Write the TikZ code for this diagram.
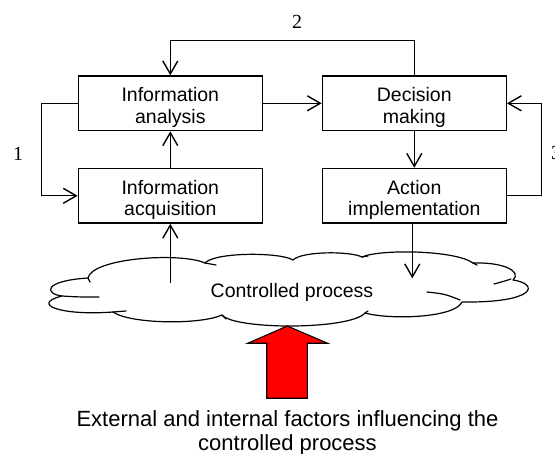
\documentclass[tikz,border=0pt]{standalone}
\usepackage{fontspec}
\setmainfont{Liberation Sans}
\newfontfamily\numfont{Liberation Serif}
\usetikzlibrary{arrows.meta}
\tikzset{
  blockbox/.style={draw, line width=1.3pt, minimum width=184pt, minimum height=54.7pt, inner sep=0pt},
  blocktext/.style={align=center, inner sep=0pt, font=\fontsize{19.5}{21.6}\selectfont},
  conn/.style={line width=1.4pt},
  arr/.style={conn, -{Straight Barb[length=13pt,width=15pt,line width=1.4pt]}},
  numlbl/.style={inner sep=0pt, font=\numfont\fontsize{20}{22}\selectfont},
  cloudline/.style={line width=1.2pt, line join=round, line cap=round},
}
\begin{document}
\begin{tikzpicture}[x=1pt,y=-1pt]
\useasboundingbox (0,0) rectangle (555,454);
% cloud
\path[cloudline, draw=black, fill=white]
  (62,296) .. controls (45,294) and (42,281) .. (88,278)
  .. controls (92,258) and (180,252) .. (205,263)
  .. controls (215,252) and (280,252) .. (293,260)
  .. controls (302,251) and (350,251) .. (362,257)
  .. controls (380,249) and (455,250) .. (473,263)
  .. controls (505,262) and (522,272) .. (513,280)
  .. controls (540,284) and (536,303) .. (462,302)
  .. controls (455,318) and (390,320) .. (365,313)
  .. controls (350,330) and (235,330) .. (222,315)
  .. controls (200,325) and (130,324) .. (113,312)
  .. controls (60,316) and (30,304) .. (62,296) -- cycle;
% cloud inner strokes
\draw[cloudline] (62,296) .. controls (78,297) .. (99,297);
\draw[cloudline] (88,278) -- (90,282);
\draw[cloudline] (205,263) -- (216,265);
\draw[cloudline] (362,257) -- (368,256);
\draw[cloudline] (473,263) -- (477,265);
\draw[cloudline] (511,279) .. controls (505,281) .. (494,284);
\draw[cloudline] (427,292) .. controls (445,294) .. (460,300);
\draw[cloudline] (365,313) -- (368,311);
\draw[cloudline] (222,315) -- (226,319);
\draw[cloudline] (113,312) -- (126,311);
\node[inner sep=0pt, font=\fontsize{19.5}{21.6}\selectfont] (cp) at (292,292.5) {Controlled process};

% boxes
\node[blockbox] (ia) at (170.3,103.3) {};
\node[blockbox] (dm) at (414.3,103.3) {};
\node[blockbox] (iq) at (170.3,195.8) {};
\node[blockbox] (ai) at (414.3,195.8) {};
\node[blocktext] (iat) at (170.3,107.5) {Information\\analysis};
\node[blocktext] (dmt) at (414.3,107.5) {Decision\\making};
\node[blocktext] (iqt) at (170.3,200) {Information\\acquisition};
\node[blocktext] (ait) at (414.3,200) {Action\\implementation};

% connectors
\draw[arr] (dm.north) -- ++(0,-35) -| (ia.north);
\draw[arr] (ia.west) -- ++(-36,0) |- (iq.west);
\draw[arr] (ai.east) -- ++(34.7,0) |- (dm.east);
\draw[arr] (ia.east) -- (dm.west);
\draw[arr] (iq.north) -- (ia.south);
\draw[arr] (dm.south) -- (ai.north);
\coordinate (cu) at (170.3,282.7);
\coordinate (cd) at (412.3,278.3);
\draw[arr] (cu) -- (iq.south);
\draw[arr] (cd |- ai.south) -- (cd);

% numbers
\node[numlbl] (n1) at (18,154) {1};
\node[numlbl] (n2) at (297,21.5) {2};
\node[numlbl] (n3) at (556,153) {3};

% red arrow
\filldraw[fill=red, draw=black, line width=1.1pt, line join=miter]
  (287.3,326) -- (327.7,343.3) -- (307.3,343.3) -- (307.3,398.3)
  -- (266.7,398.3) -- (266.7,343.3) -- (247.7,343.3) -- cycle;

\node[align=center, inner sep=0pt, font=\fontsize{22}{23.4}\selectfont] (ext) at (287.5,432.7)
  {External and internal factors influencing the\\controlled process};
\end{tikzpicture}
\end{document}
